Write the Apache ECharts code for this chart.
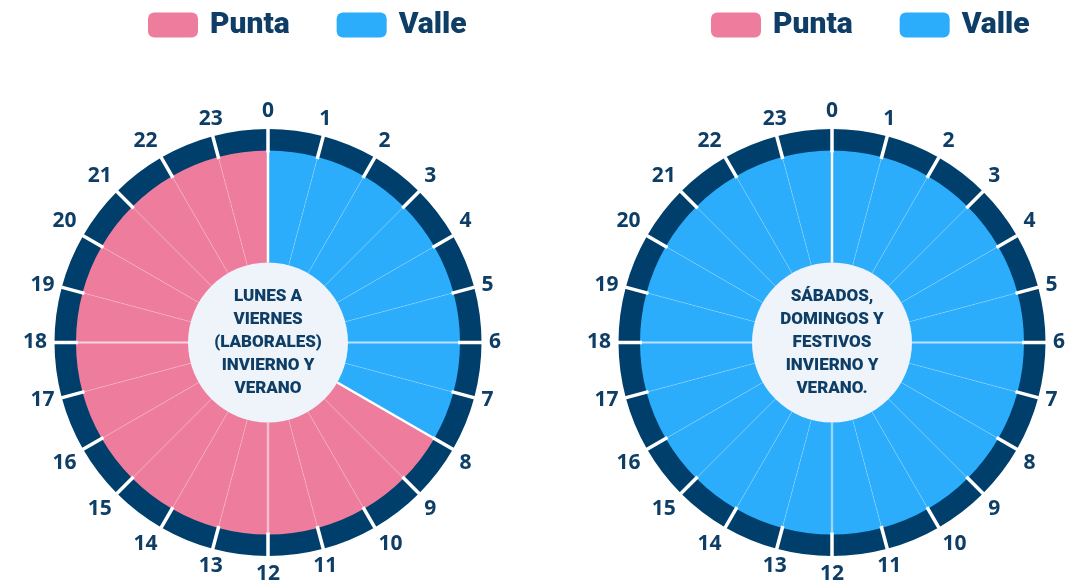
<!DOCTYPE html>
<html><head><meta charset="utf-8">
<script src="https://cdn.jsdelivr.net/npm/echarts@6/dist/echarts.min.js"></script>
<style>html,body{margin:0;padding:0;background:#fff}#c{width:1086px;height:581px}</style>
</head><body><div id="c"></div>
<script>
// ---- data ----
const hourLabels = ['0','1','2','3','4','5','6','7','8','9','10','11','12','13','14','15','16','17','18','19','20','21','22','23'];
const periodNames = ['Punta', 'Valle'];
const weekdayPeriods = ['Valle','Valle','Valle','Valle','Valle','Valle','Valle','Valle',
  'Punta','Punta','Punta','Punta','Punta','Punta','Punta','Punta',
  'Punta','Punta','Punta','Punta','Punta','Punta','Punta','Punta'];
const weekendPeriods = ['Valle','Valle','Valle','Valle','Valle','Valle','Valle','Valle',
  'Valle','Valle','Valle','Valle','Valle','Valle','Valle','Valle',
  'Valle','Valle','Valle','Valle','Valle','Valle','Valle','Valle'];
const weekdayTitle = 'LUNES A\nVIERNES\n(LABORALES)\nINVIERNO Y\nVERANO';
const weekendTitle = 'SÁBADOS,\nDOMINGOS Y\nFESTIVOS\nINVIERNO Y\nVERANO.';

// ---- styles ----
const COLORS = { Punta: '#ee7d9d', Valle: '#2badfb' };
const NAVY = '#003f6b', TEXT = '#0e3e66', CENTER_BG = '#eef4f9';
const FONT = 'Roboto, "Open Sans", sans-serif';

const option = { animation: false, polar: [], angleAxis: [], radiusAxis: [], series: [], legend: [] };

function addChart(cx, legendLeft, periods, title) {
  const c = [cx, 342.5];
  const n = hourLabels.length;
  const base = option.polar.length;
  const strong = periods.map((p, h) => {
    if (h === 0 || p !== periods[h - 1]) return '#ffffff';
    if (h % 6 === 0) return 'rgba(255,255,255,0.45)';
    return 'rgba(255,255,255,0)';
  });
  const defs = [
    { radius: [80, 192], color: 'rgba(255,255,255,0.2)', width: 1, labels: false },
    { radius: [80, 192], color: strong, width: 2.5, labels: false },
    { radius: [190, 214], color: '#ffffff', width: 3.5, labels: true }
  ];
  defs.forEach((d, i) => {
    option.polar.push({ center: c, radius: d.radius });
    option.radiusAxis.push({ polarIndex: base + i, show: false, min: 0, max: 1 });
    option.angleAxis.push({
      polarIndex: base + i, type: 'value', min: 0, max: n, interval: 1,
      startAngle: 90, clockwise: true, z: 10,
      axisLine: { show: false }, axisTick: { show: false },
      splitLine: { show: true, lineStyle: { color: d.color, width: d.width } },
      axisLabel: {
        show: d.labels, margin: 7, color: TEXT, fontSize: 21, fontWeight: 'bold',
        fontFamily: '"Open Sans", sans-serif',
        formatter: v => (v < n ? hourLabels[v] : '')
      }
    });
  });
  option.series.push({
    type: 'pie', center: c, radius: [79, 193], startAngle: 90, clockwise: true,
    silent: true, z: 2, label: { show: false }, labelLine: { show: false },
    emphasis: { disabled: true },
    data: periods.map(p => ({ name: p, value: 1, itemStyle: { color: COLORS[p] } }))
  });
  option.series.push({
    type: 'pie', center: c, radius: [192, 213.5], startAngle: 90, clockwise: true,
    silent: true, z: 2, label: { show: false }, labelLine: { show: false },
    emphasis: { disabled: true },
    data: hourLabels.map(h => ({ name: 'h' + h, value: 1, itemStyle: { color: NAVY } }))
  });
  option.series.push({
    type: 'pie', center: c, radius: [0, 80], silent: true, z: 3,
    emphasis: { disabled: true }, labelLine: { show: false },
    label: {
      show: true, position: 'center', formatter: title,
      color: TEXT, fontSize: 17, fontWeight: 900, fontFamily: FONT, lineHeight: 23
    },
    data: [{ name: 'centro', value: 1, itemStyle: { color: CENTER_BG } }]
  });
  option.legend.push({
    left: legendLeft, top: 10, padding: 0, data: periodNames, selectedMode: false,
    icon: 'roundRect', itemWidth: 50, itemHeight: 25, itemGap: 47,
    textStyle: { color: TEXT, fontSize: 30, fontWeight: 900, fontFamily: FONT, padding: [0, 0, 0, 7] }
  });
}

addChart(268, 148, weekdayPeriods, weekdayTitle);
addChart(832, 711, weekendPeriods, weekendTitle);

const chart = echarts.init(document.getElementById('c'), null, { renderer: 'canvas' });
chart.setOption(option);
</script>
</body></html>
